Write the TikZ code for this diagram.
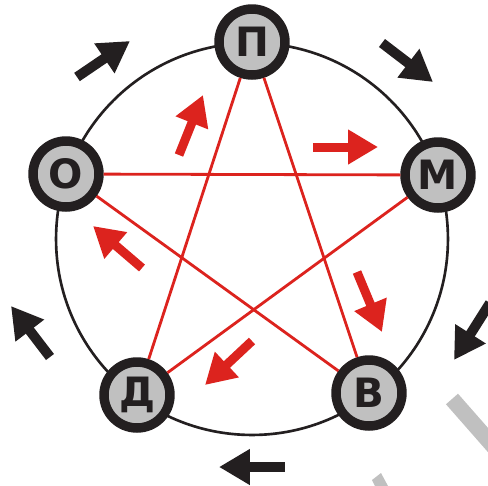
\documentclass[tikz,border=0pt]{standalone}
\usepackage{fontspec}
\newfontfamily\letterfont{DejaVu Sans}
\usepackage{xcolor}
\usetikzlibrary{arrows.meta}

\definecolor{starred}{HTML}{DC231E}
\definecolor{arrowblack}{HTML}{231F20}
\definecolor{nodegray}{HTML}{C0C0C0}

\begin{document}
\begin{tikzpicture}[
    % Global styles (1 unit = 1 px of the reference)
    x=0.02cm, y=-0.02cm,
    % Node styles
    letternode/.style={
      circle, draw=arrowblack, fill=nodegray, line width=5.4pt,
      minimum size=1.32cm, inner sep=0pt,
      font=\letterfont\bfseries\fontsize{23}{23}\selectfont, text=arrowblack
    },
    % Line styles
    ringline/.style={draw=arrowblack, line width=1.5pt},
    starline/.style={draw=starred, line width=1.6pt},
    cyclearr/.style={arrowblack, line width=0.2cm,
      -{Triangle[length=0.62cm, width=0.68cm]}},
    stararr/.style={starred, line width=0.18cm,
      -{Triangle[length=0.6cm, width=0.66cm]}},
    markband/.style={nodegray, line width=0.32cm},
  ]
  \useasboundingbox (0,0) rectangle (488,485);

  % ====================================================================
  % OUTER CIRCLE
  % ====================================================================
  \coordinate (ctr) at (252,239);
  \draw[ringline] (ctr) circle[radius=3.92cm];

  % ====================================================================
  % LETTER NODES
  % ====================================================================
  \node[letternode] (p) at (252,42) {П};
  \node[letternode] (m) at (438,175) {М};
  \node[letternode] (v) at (369,393) {В};
  \node[letternode] (d) at (137,395) {Д};
  \node[letternode] (o) at (66,174) {О};

  % ====================================================================
  % STAR
  % ====================================================================
  \draw[starline] (p) -- (v);
  \draw[starline] (p) -- (d);
  \draw[starline] (o) -- (m);
  \draw[starline] (o) -- (v);
  \draw[starline] (m) -- (d);

  % Red arrows along the star
  \coordinate (r1a) at (179,155); \coordinate (r1b) at (203,95);
  \coordinate (r2a) at (313,147); \coordinate (r2b) at (378,147);
  \coordinate (r3a) at (357,272); \coordinate (r3b) at (382,332);
  \coordinate (r4a) at (252,341); \coordinate (r4b) at (205,385);
  \coordinate (r5a) at (142,268); \coordinate (r5b) at (93,226);
  \foreach \i in {1,...,5}
    \draw[stararr] (r\i a) -- (r\i b);

  % ====================================================================
  % BLACK ARROWS AROUND THE CIRCLE
  % ====================================================================
  \coordinate (c1a) at (77,77);   \coordinate (c1b) at (130,41);
  \coordinate (c2a) at (382,43);  \coordinate (c2b) at (433,82);
  \coordinate (c3a) at (490,303); \coordinate (c3b) at (454,360);
  \coordinate (c4a) at (285,467); \coordinate (c4b) at (219,467);
  \coordinate (c5a) at (50,357);  \coordinate (c5b) at (11,306);
  \foreach \i in {1,...,5}
    \draw[cyclearr] (c\i a) -- (c\i b);

  % Gray marks, bottom right
  \draw[markband] (452,399) -- (495,448);
  \fill[nodegray] (372,480) -- (381,473) -- (388,486) -- (375,486) -- cycle;

\end{tikzpicture}
\end{document}
